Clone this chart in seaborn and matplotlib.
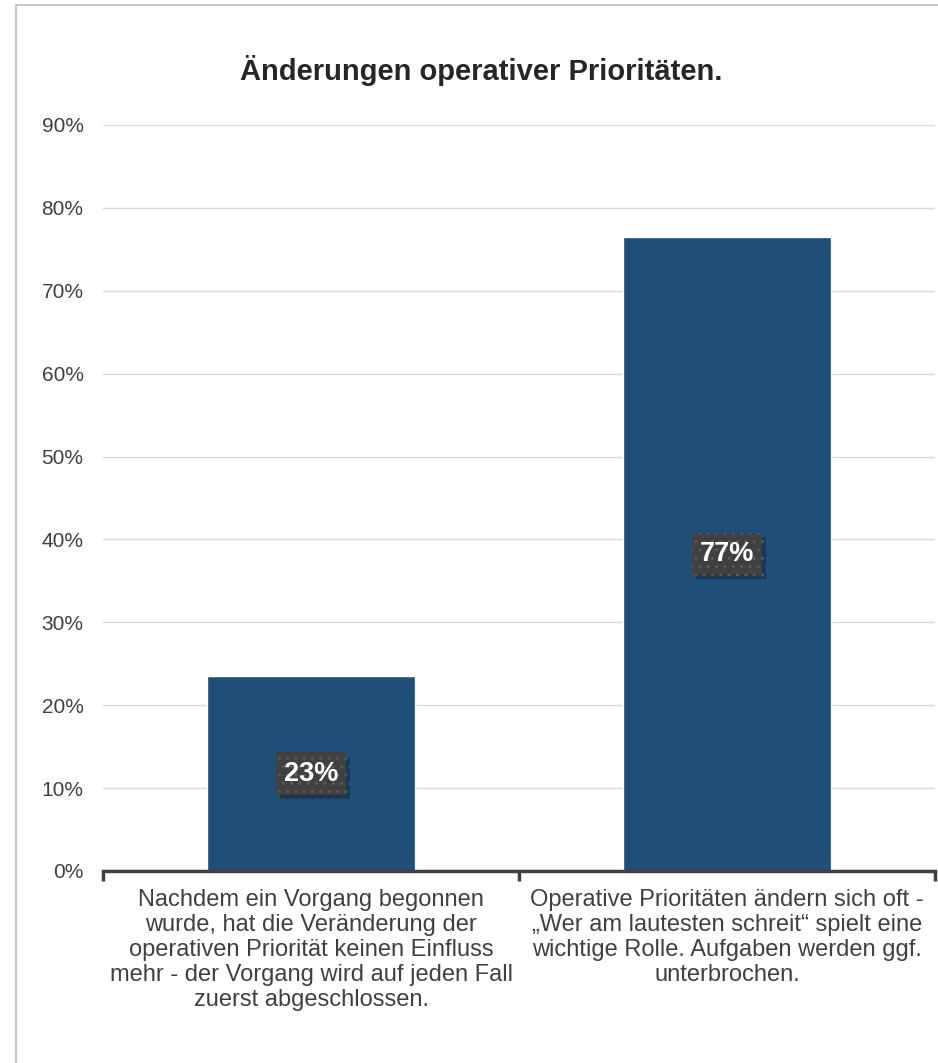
import matplotlib
matplotlib.use("Agg")
import matplotlib.pyplot as plt
import matplotlib.patheffects as pe
from matplotlib.patches import Rectangle
import seaborn as sns
import pandas as pd

categories = [
    "Nachdem ein Vorgang begonnen\nwurde, hat die Veränderung der\noperativen Priorität keinen Einfluss\nmehr - der Vorgang wird auf jeden Fall\nzuerst abgeschlossen.",
    "Operative Prioritäten ändern sich oft -\n„Wer am lautesten schreit“ spielt eine\nwichtige Rolle. Aufgaben werden ggf.\nunterbrochen.",
]
values = [0.235, 0.765]
value_labels = ["23%", "77%"]
yticks = [0, 0.1, 0.2, 0.3, 0.4, 0.5, 0.6, 0.7, 0.8, 0.9]
ytick_labels = ["0%", "10%", "20%", "30%", "40%", "50%", "60%", "70%", "80%", "90%"]
title = "Änderungen operativer Prioritäten."

sns.set_style("white")
plt.rcParams["font.family"] = ["Liberation Sans", "DejaVu Sans"]

W, H = 938, 1063
fig = plt.figure(figsize=(W / 100, H / 100), dpi=100)
fig.patch.set_facecolor("white")

# outer frame
fig.patches.append(Rectangle((16 / W, -0.1), 1.2, 1 - 5 / H + 0.1, transform=fig.transFigure,
                             fill=False, edgecolor="#C8C8C8", linewidth=1.5, zorder=0))

ax = fig.add_axes([103 / W, 1 - 871 / H, (935 - 103) / W, (871 - 125) / H])
df = pd.DataFrame({"cat": categories, "val": values})
sns.barplot(data=df, x="cat", y="val", color="#1F4E79", saturation=1, width=0.5, ax=ax, zorder=3)

ax.set_xlim(-0.5, 1.5)
ax.set_ylim(0, 0.9)
ax.set_yticks(yticks)
ax.set_yticklabels(ytick_labels, fontsize=15, color="#404040")
ax.yaxis.grid(True, color="#D9D9D9", linewidth=1, zorder=0)
ax.set_axisbelow(True)
for s in ["top", "right", "left"]:
    ax.spines[s].set_visible(False)
ax.spines["bottom"].set_color("#404040")
ax.spines["bottom"].set_linewidth(2.5)
ax.spines["bottom"].set_zorder(5)
ax.tick_params(axis="y", length=0, pad=14)
ax.set_xticks([0, 1])
ax.set_xticklabels(categories, fontsize=17, color="#404040", linespacing=1.17)
ax.tick_params(axis="x", which="major", length=0, pad=13)
ax.set_xticks([-0.5, 0.5, 1.5], minor=True)
ax.tick_params(axis="x", which="minor", bottom=True, length=7, width=2.5, color="#404040", direction="out")
ax.set_xlabel("")
ax.set_ylabel("")

for i, (v, lab) in enumerate(zip(values, value_labels)):
    t = ax.text(i, v / 2, lab, ha="center", va="center", fontsize=19.5, fontweight="bold",
                color="white", zorder=6,
                bbox=dict(boxstyle="square,pad=0.3", facecolor="#404040", edgecolor="#5A5A5A",
                          linewidth=0, hatch=".."))
    t.get_bbox_patch().set_path_effects([pe.SimplePatchShadow(offset=(3, -3), shadow_rgbFace="#14263A", alpha=0.55), pe.Normal()])

fig.text(481 / W, 1 - 70 / H, title, ha="center", va="center", fontsize=21, fontweight="bold", color="#262626")

fig.savefig("out.png", dpi=100, facecolor="white")
